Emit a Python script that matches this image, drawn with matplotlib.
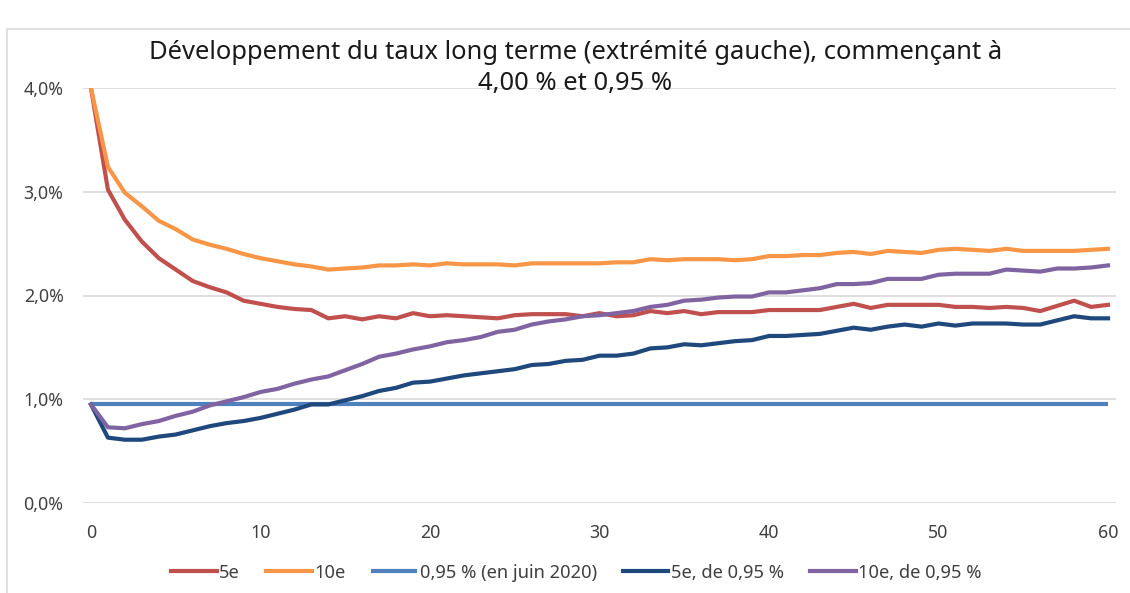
import matplotlib
matplotlib.use("Agg")
import matplotlib.pyplot as plt
from matplotlib.ticker import FuncFormatter
from matplotlib.patches import Rectangle

plt.rcParams['font.family'] = ['Noto Sans', 'DejaVu Sans']

# durée (années)
annees = list(range(61))

# taux en %
taux_5e = [4.00, 3.02, 2.73, 2.52, 2.36, 2.25, 2.14, 2.08, 2.03, 1.95,
           1.92, 1.89, 1.87, 1.86, 1.78, 1.80, 1.77, 1.80, 1.78, 1.83,
           1.80, 1.81, 1.80, 1.79, 1.78, 1.81, 1.82, 1.82, 1.82, 1.80,
           1.83, 1.80, 1.81, 1.85, 1.83, 1.85, 1.82, 1.84, 1.84, 1.84,
           1.86, 1.86, 1.86, 1.86, 1.89, 1.92, 1.88, 1.91, 1.91, 1.91,
           1.91, 1.89, 1.89, 1.88, 1.89, 1.88, 1.85, 1.90, 1.95, 1.89,
           1.91]
taux_10e = [4.00, 3.24, 2.99, 2.86, 2.72, 2.64, 2.54, 2.49, 2.45, 2.40,
            2.36, 2.33, 2.30, 2.28, 2.25, 2.26, 2.27, 2.29, 2.29, 2.30,
            2.29, 2.31, 2.30, 2.30, 2.30, 2.29, 2.31, 2.31, 2.31, 2.31,
            2.31, 2.32, 2.32, 2.35, 2.34, 2.35, 2.35, 2.35, 2.34, 2.35,
            2.38, 2.38, 2.39, 2.39, 2.41, 2.42, 2.40, 2.43, 2.42, 2.41,
            2.44, 2.45, 2.44, 2.43, 2.45, 2.43, 2.43, 2.43, 2.43, 2.44,
            2.45]
juin_2020 = 0.95
taux_5e_095 = [0.95, 0.63, 0.61, 0.61, 0.64, 0.66, 0.70, 0.74, 0.77, 0.79,
               0.82, 0.86, 0.90, 0.95, 0.95, 0.99, 1.03, 1.08, 1.11, 1.16,
               1.17, 1.20, 1.23, 1.25, 1.27, 1.29, 1.33, 1.34, 1.37, 1.38,
               1.42, 1.42, 1.44, 1.49, 1.50, 1.53, 1.52, 1.54, 1.56, 1.57,
               1.61, 1.61, 1.62, 1.63, 1.66, 1.69, 1.67, 1.70, 1.72, 1.70,
               1.73, 1.71, 1.73, 1.73, 1.73, 1.72, 1.72, 1.76, 1.80, 1.78,
               1.78]
taux_10e_095 = [0.95, 0.73, 0.72, 0.76, 0.79, 0.84, 0.88, 0.94, 0.98, 1.02,
                1.07, 1.10, 1.15, 1.19, 1.22, 1.28, 1.34, 1.41, 1.44, 1.48,
                1.51, 1.55, 1.57, 1.60, 1.65, 1.67, 1.72, 1.75, 1.77, 1.80,
                1.81, 1.83, 1.85, 1.89, 1.91, 1.95, 1.96, 1.98, 1.99, 1.99,
                2.03, 2.03, 2.05, 2.07, 2.11, 2.11, 2.12, 2.16, 2.16, 2.16,
                2.20, 2.21, 2.21, 2.21, 2.25, 2.24, 2.23, 2.26, 2.26, 2.27,
                2.29]

fig = plt.figure(figsize=(11.3, 5.93), dpi=100)
ax = fig.add_axes([83/1130, 90/593, (1116-83)/1130, (503-88)/593])

# cadre du graphique (style Excel)
fig.patches.append(Rectangle((7/1130, -0.05), 1.2, (593-29)/593 + 0.05,
                             transform=fig.transFigure, fill=False,
                             edgecolor='#D9D9D9', linewidth=1.2))

lw = 3.0
ax.plot(annees, taux_5e, color='#C0504D', lw=lw, label='5e')
ax.plot(annees, taux_10e, color='#F79646', lw=lw, label='10e')
ax.hlines(juin_2020, annees[0], annees[-1], color='#4F81BD', lw=lw,
          label='0,95 % (en juin 2020)')
ax.plot(annees, taux_5e_095, color='#1F497D', lw=lw, label='5e, de 0,95 %')
ax.plot(annees, taux_10e_095, color='#8064A2', lw=lw, label='10e, de 0,95 %')

ax.set_xlim(-0.47, 60.47)
ax.set_ylim(0, 4)
ax.set_xticks(range(0, 61, 10))
ax.set_yticks([0, 1, 2, 3, 4])
ax.yaxis.set_major_formatter(FuncFormatter(lambda v, p: f"{v:.1f}%".replace('.', ',')))
ax.grid(axis='y', color='#D9D9D9', lw=1.2)
ax.set_axisbelow(True)
for s in ax.spines.values():
    s.set_visible(False)
ax.tick_params(length=0, labelsize=12.8, colors='#404040')
ax.tick_params(axis='x', pad=15)
ax.tick_params(axis='y', pad=14)

fig.text(0.509, 0.886, "Développement du taux long terme (extrémité gauche), commençant à\n4,00 % et 0,95 %",
         ha='center', va='center', fontsize=18.4, color='#1a1a1a', linespacing=1.32)

fig.legend(loc='center', bbox_to_anchor=(0.51, 0.034), ncol=5, frameon=False,
           fontsize=13.2, handlelength=2.5, handletextpad=0.15, columnspacing=1.4,
           labelcolor='#404040')

fig.savefig('out.png', dpi=100)
